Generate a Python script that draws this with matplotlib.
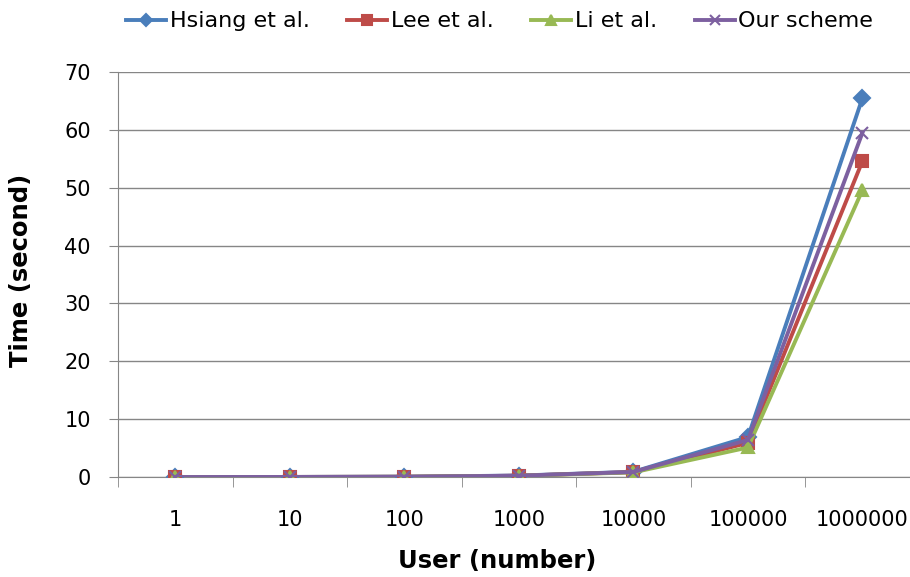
import matplotlib

matplotlib.use("Agg")
import matplotlib.pyplot as plt
from matplotlib.ticker import FixedLocator

plt.rcParams["font.family"] = ["DejaVu Sans"]

users = ["1", "10", "100", "1000", "10000", "100000", "1000000"]
hsiang = [0.0, 0.01, 0.05, 0.25, 0.9, 6.9, 65.5]
lee = [0.0, 0.01, 0.04, 0.22, 0.85, 5.9, 54.6]
li = [0.0, 0.01, 0.04, 0.2, 0.8, 5.1, 49.6]
ours = [0.0, 0.01, 0.05, 0.23, 0.87, 6.4, 59.5]

series = [
    ("Hsiang et al.", hsiang, "#4A7EBB", "D", 8),
    ("Lee et al.", lee, "#BE4B48", "s", 9),
    ("Li et al.", li, "#98B954", "^", 9),
    ("Our scheme", ours, "#7D60A0", "x", 9),
]

fig = plt.figure(figsize=(9.1, 5.77), dpi=100)
ax = fig.add_axes([0.1297, 0.1733, 0.881, 0.702])

x = range(len(users))
for name, vals, color, marker, ms in series:
    ax.plot(x, vals, color=color, marker=marker, markersize=ms, linewidth=2.8,
            markeredgewidth=1.5, label=name)

ax.set_xlim(-0.5, 6.5)
ax.set_ylim(0, 70)
ax.set_yticks(range(0, 71, 10))
ax.set_xticks(list(x))
ax.set_xticklabels(users)
ax.xaxis.set_minor_locator(FixedLocator([i - 0.5 for i in range(8)]))
ax.tick_params(axis="x", which="major", length=0, labelsize=15, pad=24)
ax.tick_params(axis="x", which="minor", length=7, color="#868686", direction="out")
ax.tick_params(axis="y", length=6.5, color="#868686", labelsize=15, pad=13)
ax.grid(axis="y", color="#868686", linewidth=1)
ax.set_axisbelow(True)
for s in ("top", "right"):
    ax.spines[s].set_visible(False)
for s in ("left", "bottom"):
    ax.spines[s].set_color("#868686")
ax.spines["bottom"].set_zorder(0)

ax.set_xlabel("User (number)", fontsize=17.5, fontweight="bold", va="top")
ax.xaxis.set_label_coords(0.4726, -0.178)
ax.set_ylabel("Time (second)", fontsize=17.5, fontweight="bold")
ax.yaxis.set_label_coords(-0.106, 0.51)

fig.legend(loc="center", bbox_to_anchor=(0.549, 0.963), ncol=4, frameon=False,
           fontsize=16, handlelength=1.8, handletextpad=0.15, columnspacing=1.7,
           markerscale=0.8)

fig.savefig("out.png", dpi=100)
plt.close(fig)
